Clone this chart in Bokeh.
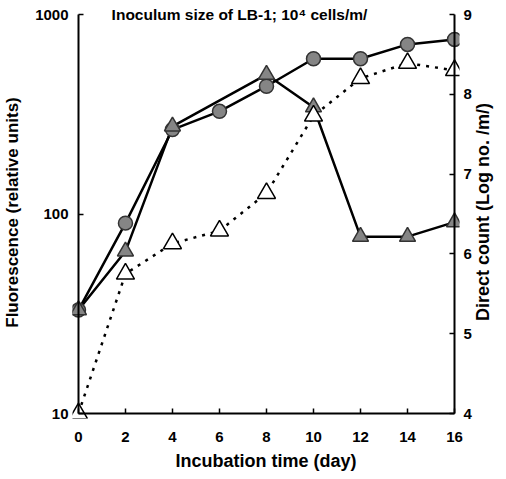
import math
from bokeh.plotting import figure
from bokeh.models import (Range1d, LinearAxis, LogAxis, Label, FixedTicker, LinearScale,
                          NumeralTickFormatter, CustomJSTickFormatter)
from bokeh.embed import file_html
from bokeh.resources import INLINE

# Data
days = [0, 2, 4, 6, 8, 10, 12, 14, 16]
fluor_circle = [33, 90, 265, 327, 437, 600, 600, 708, 750]
days_tri = [0, 2, 4, 8, 10, 12, 14, 16]
fluor_tri = [33, 65, 275, 500, 343, 77, 77, 91]
direct_count = [4.0, 5.75, 6.13, 6.29, 6.76, 7.73, 8.20, 8.39, 8.30]
x_ticks = [0, 2, 4, 6, 8, 10, 12, 14, 16]
left_ticks = [10, 100, 1000]
right_ticks = [4, 5, 6, 7, 8, 9]
right_title = "Direct count (Log no. /m/)"

FONT = "Liberation Sans"

# ranges are padded a few pixels so edge markers are not clipped;
# the drawn axis lines are pinned to the true limits
PX_X = 23.6875
PX_DEC = 199.5
PX_CNT = 79.8
x0, x1 = 0 - 6 / PX_X, 16 + 5 / PX_X
ly0, ly1 = 10 ** (1 - 5 / PX_DEC), 10 ** (3 + 8 / PX_DEC)
ry0, ry1 = 4 - 5 / PX_CNT, 9 + 8 / PX_CNT

p = figure(width=506, height=479, output_backend="svg", toolbar_location=None,
           x_range=Range1d(x0, x1), y_range=Range1d(ly0, ly1), y_axis_type="log",
           min_border_left=72, min_border_right=44, min_border_top=6, min_border_bottom=61)
p.outline_line_color = None
p.grid.visible = False
p.background_fill_color = "white"
p.border_fill_color = "white"

p.extra_y_ranges = {"count": Range1d(ry0, ry1)}
p.extra_y_scales = {"count": LinearScale()}

blank = CustomJSTickFormatter(code="return ''")

# ---- label axes (in panels, no line, no ticks)
xa = p.xaxis[0]
ya = p.yaxis[0]
ra = LinearAxis(y_range_name="count")
p.add_layout(ra, "right")
# right-hand title, written as a single rotated label reading bottom-to-top,
# anchored where the text starts
rt = LinearAxis(y_range_name="count", ticker=FixedTicker(ticks=[5.16]),
                formatter=CustomJSTickFormatter(code="return %r" % right_title))
p.add_layout(rt, "right")

xa.ticker = FixedTicker(ticks=x_ticks)
xa.axis_label = "Incubation time (day)"
ya.ticker = FixedTicker(ticks=left_ticks)
ya.formatter = NumeralTickFormatter(format="0")
ya.axis_label = "Fluorescence (relative units)"
ra.ticker = FixedTicker(ticks=right_ticks)

for ax in [xa, ya, ra, rt]:
    ax.axis_line_color = None
    ax.major_tick_line_color = None
    ax.minor_tick_line_color = None
    ax.major_tick_in = 0
    ax.major_tick_out = 0
    ax.minor_tick_in = 0
    ax.minor_tick_out = 0
    ax.major_label_text_font = FONT
    ax.major_label_text_font_style = "bold"
    ax.major_label_text_font_size = "15px"
    ax.major_label_text_color = "black"
    ax.axis_label_text_font = FONT
    ax.axis_label_text_font_style = "bold"
    ax.axis_label_text_font_size = "18px"
    ax.axis_label_text_color = "black"

ya.axis_label_text_font_size = "17px"
rt.major_label_text_font_size = "18px"
rt.major_label_orientation = math.pi / 2
rt.major_label_standoff = 9
xa.major_label_standoff = 13
xa.axis_label_standoff = 6
ya.major_label_standoff = 4
ya.axis_label_standoff = 10
ra.major_label_standoff = 4

# ---- line axes pinned at the true data limits
xl = LinearAxis(fixed_location=10, bounds=(0, 16), ticker=FixedTicker(ticks=x_ticks),
                formatter=blank)
yl = LogAxis(fixed_location=0, bounds=(10, 1000), ticker=FixedTicker(ticks=left_ticks),
             formatter=blank)
rl = LinearAxis(y_range_name="count", fixed_location=16, bounds=(4, 9),
                ticker=FixedTicker(ticks=right_ticks), formatter=blank)
for ax in [xl, yl, rl]:
    ax.major_tick_in = 5
    ax.major_tick_out = 0
    ax.minor_tick_in = 0
    ax.minor_tick_out = 0
    ax.axis_line_width = 2
    ax.axis_line_color = "black"
    ax.major_tick_line_width = 1.5
    ax.major_label_standoff = 0
    ax.major_label_text_font_size = "1px"
p.add_layout(xl, "below")
p.add_layout(yl, "left")
p.add_layout(rl, "right")

# lines
p.line(days, fluor_circle, line_color="black", line_width=2.5)
p.line(days_tri, fluor_tri, line_color="black", line_width=2.5)
p.line(days, direct_count, y_range_name="count", line_color="black",
       line_width=2.5, line_dash="3 6")

# markers
p.scatter(days, fluor_circle, marker="circle", size=14, fill_color="#858585",
          line_color="#333333", line_width=1.5)
p.scatter(days_tri, fluor_tri, marker="triangle", size=16, fill_color="#858585",
          line_color="#333333", line_width=1.5)
p.scatter(days, direct_count, y_range_name="count", marker="triangle", size=18,
          fill_color="white", line_color="black", line_width=1.5)

title = Label(x=6.85, y=1000, text="Inoculum size of LB-1; 10\u2074 cells/m/",
              text_font=FONT, text_font_style="bold", text_font_size="15.5px",
              text_align="center", text_baseline="middle", text_color="black")
p.add_layout(title)

open("out.html", "w").write(file_html(p, INLINE))
